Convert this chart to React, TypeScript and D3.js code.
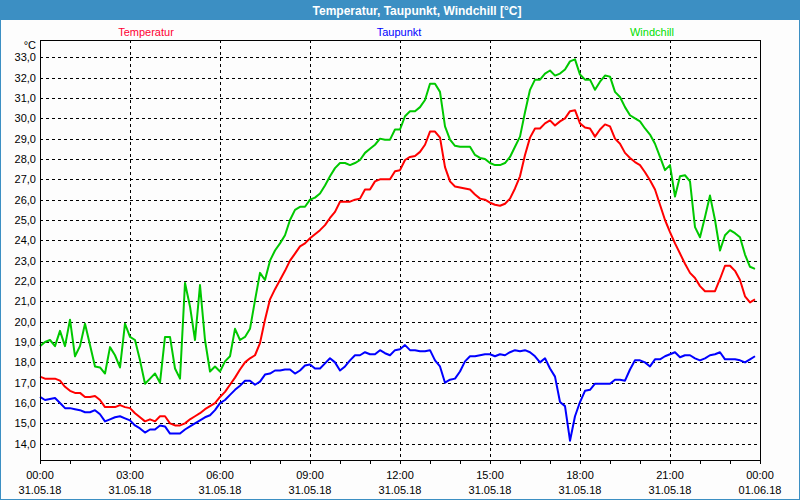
import React, { useEffect } from 'react';
import * as d3 from 'd3';

// 10-minute readings, 31.05.18 00:00 .. 23:50
const temperatur = [
  17.3, 17.2, 17.2, 17.2, 17.1, 16.8, 16.6, 16.5, 16.5, 16.3, 16.3, 16.35,
  16.15, 15.8, 15.8, 15.8, 15.9, 15.8, 15.75, 15.5, 15.3, 15.1, 15.2, 15.1,
  15.35, 15.35, 15.0, 14.9, 14.9, 15.0, 15.2, 15.35, 15.5, 15.7, 15.85, 16.0,
  16.3, 16.55, 16.9, 17.25, 17.65, 18.0, 18.2, 18.35, 18.95, 20.1, 21.1, 21.6,
  22.05, 22.5, 23.0, 23.35, 23.7, 23.85, 24.1, 24.3, 24.5, 24.75, 25.1, 25.4,
  25.9, 25.9, 25.9, 26.0, 26.05, 26.5, 26.5, 26.9, 27.0, 27.0, 27.0, 27.4,
  27.45, 27.95, 28.1, 28.15, 28.35, 28.7, 29.35, 29.35, 29.05, 27.6, 26.9, 26.65,
  26.6, 26.55, 26.5, 26.25, 26.05, 26.0, 25.85, 25.75, 25.7, 25.8, 26.05, 26.55,
  27.15, 28.2, 29.05, 29.5, 29.5, 29.75, 29.9, 29.65, 29.85, 30.0, 30.35, 30.4,
  29.75, 29.55, 29.5, 29.1, 29.45, 29.7, 29.6, 29.0, 28.75, 28.3, 28.05, 27.85,
  27.7, 27.35, 26.95, 26.5, 25.75, 25.0, 24.4, 23.85, 23.35, 22.85, 22.4, 22.15,
  21.75, 21.5, 21.5, 21.5, 22.1, 22.75, 22.75, 22.5, 22.05, 21.25, 20.95, 21.1,
];

const taupunkt = [
  16.3, 16.15, 16.2, 16.25, 16.0, 15.75, 15.75, 15.7, 15.65, 15.55, 15.55, 15.65,
  15.45, 15.1, 15.2, 15.3, 15.35, 15.25, 15.15, 14.9, 14.75, 14.55, 14.7, 14.7,
  14.9, 14.85, 14.5, 14.5, 14.5, 14.7, 14.85, 15.0, 15.15, 15.3, 15.4, 15.65,
  16.0, 16.15, 16.4, 16.65, 16.85, 17.1, 17.1, 16.9, 17.05, 17.4, 17.45, 17.6,
  17.6, 17.65, 17.65, 17.45, 17.6, 17.85, 17.9, 17.7, 17.7, 17.95, 18.2, 18.0,
  17.6, 17.8, 18.1, 18.35, 18.35, 18.5, 18.4, 18.4, 18.6, 18.45, 18.35, 18.6,
  18.65, 18.85, 18.6, 18.6, 18.55, 18.55, 18.6, 18.1, 17.8, 17.0, 17.15, 17.2,
  17.55, 18.05, 18.3, 18.3, 18.35, 18.4, 18.4, 18.3, 18.4, 18.35, 18.5, 18.6,
  18.55, 18.6, 18.5, 18.3, 18.0, 18.2, 17.7, 17.3, 16.05, 15.85, 14.15, 15.35,
  16.05, 16.6, 16.65, 16.95, 16.95, 16.95, 16.95, 17.15, 17.15, 17.1, 17.65, 18.1,
  18.1, 18.0, 17.8, 18.15, 18.15, 18.3, 18.4, 18.5, 18.25, 18.35, 18.35, 18.2,
  18.1, 18.2, 18.35, 18.4, 18.5, 18.15, 18.15, 18.15, 18.1, 18.0, 18.15, 18.3,
];

const windchill = [
  18.8, 19.0, 19.1, 18.8, 19.55, 18.8, 20.1, 18.3, 18.8, 19.9, 18.85, 17.8,
  17.75, 17.45, 18.75, 18.35, 17.75, 19.9, 19.25, 19.1, 18.1, 16.95, 17.2, 17.45,
  17.0, 19.25, 19.25, 17.7, 17.2, 21.9, 20.75, 19.1, 21.8, 19.1, 17.55, 17.8,
  17.55, 18.05, 18.3, 19.65, 19.1, 19.25, 19.65, 21.05, 22.4, 22.05, 23.0, 23.5,
  23.85, 24.25, 25.0, 25.5, 25.65, 25.65, 26.0, 26.1, 26.3, 26.7, 27.15, 27.55,
  27.8, 27.8, 27.7, 27.8, 27.95, 28.3, 28.5, 28.7, 29.0, 28.95, 28.95, 29.45,
  29.45, 30.1, 30.35, 30.35, 30.55, 30.9, 31.7, 31.7, 31.3, 29.6, 28.95, 28.65,
  28.6, 28.6, 28.6, 28.2, 28.05, 28.0, 27.8, 27.7, 27.7, 27.8, 28.1, 28.6,
  29.1, 30.3, 31.4, 31.9, 31.9, 32.2, 32.35, 32.1, 32.2, 32.4, 32.8, 32.9,
  32.15, 31.9, 31.9, 31.4, 31.8, 32.1, 32.05, 31.3, 31.05, 30.55, 30.15, 30.0,
  29.85, 29.5, 29.2, 28.75, 28.1, 27.45, 27.7, 26.15, 27.15, 27.2, 26.9, 24.65,
  24.15, 25.15, 26.2, 25.0, 23.5, 24.25, 24.5, 24.35, 24.15, 23.3, 22.7, 22.6,
];

const seriesNames = ['Temperatur', 'Taupunkt', 'Windchill'];
const seriesColors = ['#ff0000', '#0000ff', '#00c800'];
const legendColors = ['#ff0033', '#0000ff', '#00dd00'];

const yTicks = [14, 15, 16, 17, 18, 19, 20, 21, 22, 23, 24, 25, 26, 27, 28, 29, 30, 31, 32, 33];
const xTickHours = [0, 3, 6, 9, 12, 15, 18, 21, 24];
const xTimeLabels = ['00:00', '03:00', '06:00', '09:00', '12:00', '15:00', '18:00', '21:00', '00:00'];
const xDateLabels = ['31.05.18', '31.05.18', '31.05.18', '31.05.18', '31.05.18', '31.05.18', '31.05.18', '31.05.18', '01.06.18'];

const W = 800;
const H = 500;
const plot = { left: 40, right: 760, top: 40, bottom: 460 };
const font = '"Liberation Sans", Arial, sans-serif';

export default function App() {
  useEffect(() => {
    document.body.style.margin = '0';
  }, []);

  const x = d3.scaleLinear().domain([0, 24]).range([plot.left, plot.right]);
  const y = d3.scaleLinear().domain([13.2, 33.85]).range([plot.bottom, plot.top]);

  const line = d3
    .line<number>()
    .x((_, i) => x(i / 6))
    .y((d) => y(d));

  const series = [temperatur, taupunkt, windchill];
  const minorTicks = d3.range(0, 25);
  const legendX = [146, 399, 652];

  return (
    <svg width={W} height={H} style={{ display: 'block', fontFamily: font }}>
      <rect x={0} y={0} width={W} height={H} fill="#3c8fc3" />
      <rect x={1} y={20} width={W - 2} height={H - 21} fill="#fdfdfd" />
      <text x={417} y={15} textAnchor="middle" fill="#fff" fontWeight="bold" fontSize={12}>
        Temperatur, Taupunkt, Windchill [°C]
      </text>

      {seriesNames.map((n, i) => (
        <text key={n} x={legendX[i]} y={36} textAnchor="middle" fontSize={11} fill={legendColors[i]}>
          {n}
        </text>
      ))}

      {/* grid */}
      {yTicks.map((t) => (
        <line key={'gy' + t} x1={plot.left} x2={plot.right} y1={Math.round(y(t)) + 0.5} y2={Math.round(y(t)) + 0.5}
          stroke="#000" strokeDasharray="3,3" />
      ))}
      {xTickHours.slice(1, -1).map((h) => (
        <line key={'gx' + h} x1={x(h) + 0.5} x2={x(h) + 0.5} y1={plot.top} y2={plot.bottom}
          stroke="#000" strokeDasharray="3,3" />
      ))}

      {/* lines */}
      {series.map((s, i) => (
        <path key={i} d={line(s) || ''} fill="none" stroke={seriesColors[i]} strokeWidth={2}
          strokeLinejoin="round" />
      ))}

      {/* frame */}
      <rect x={plot.left + 0.5} y={plot.top + 0.5} width={plot.right - plot.left} height={plot.bottom - plot.top}
        fill="none" stroke="#000" />

      {/* y axis labels */}
      <text x={36} y={49} textAnchor="end" fontSize={11} fill="#000">°C</text>
      {yTicks.map((t) => (
        <text key={'ly' + t} x={36} y={y(t) + 4} textAnchor="end" fontSize={11} fill="#000">
          {d3.format('.1f')(t).replace('.', ',')}
        </text>
      ))}

      {/* x axis */}
      {minorTicks.map((h) => (
        <line key={'tx' + h} x1={x(h) + 0.5} x2={x(h) + 0.5} y1={plot.bottom} y2={plot.bottom + 4} stroke="#000" />
      ))}
      {xTickHours.map((h, i) => (
        <g key={'lx' + i}>
          <text x={x(h)} y={479} textAnchor="middle" fontSize={11} fill="#000">{xTimeLabels[i]}</text>
          <text x={x(h)} y={494} textAnchor="middle" fontSize={11} fill="#000">{xDateLabels[i]}</text>
        </g>
      ))}
    </svg>
  );
}
